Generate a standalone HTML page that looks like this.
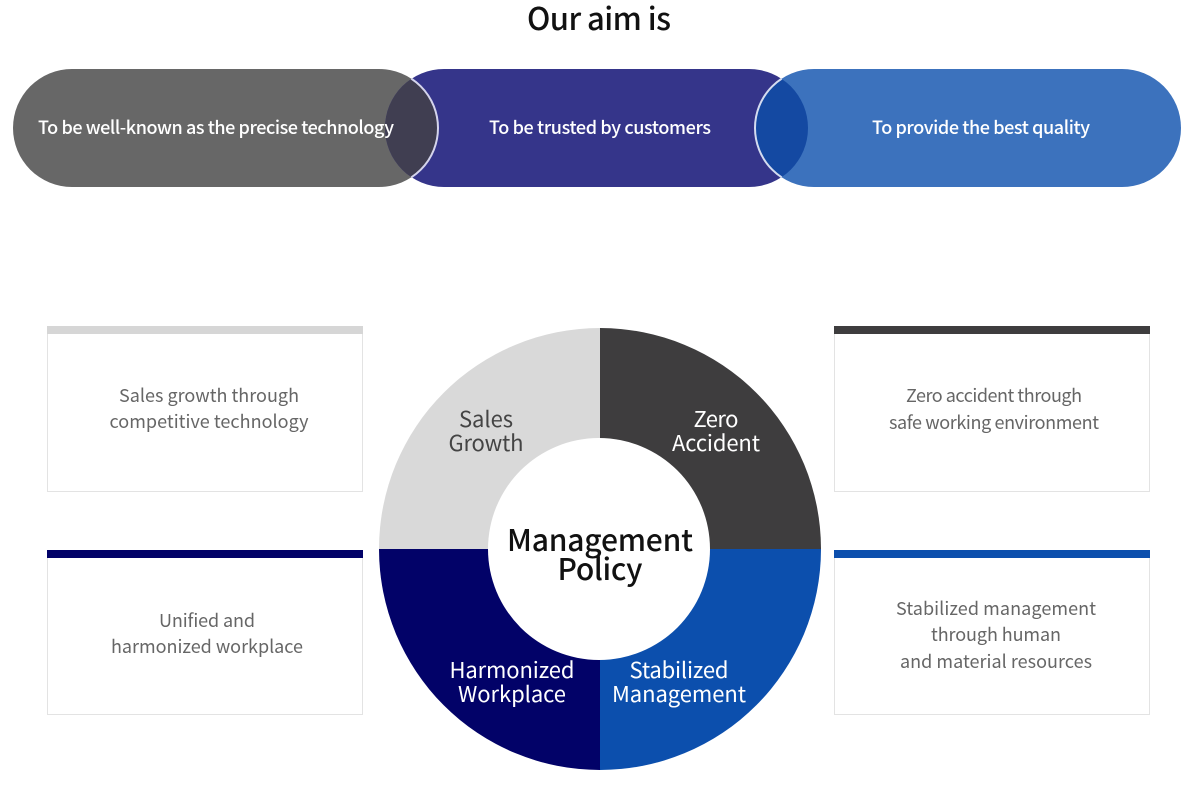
<!DOCTYPE html>
<html>
<head>
<meta charset="utf-8">
<style>
  html, body { margin: 0; padding: 0; background: #ffffff; }
  body { width: 1200px; height: 792px; overflow: hidden; }
  svg { display: block; }
  text { font-family: "Noto Sans CJK KR", "Liberation Sans", sans-serif; }
</style>
</head>
<body>
<svg width="1200" height="792" viewBox="0 0 1200 792" xmlns="http://www.w3.org/2000/svg">
  <defs>
    <clipPath id="c2l"><circle cx="444" cy="128" r="59"/></clipPath>
    <clipPath id="c2r"><circle cx="749" cy="128" r="59"/></clipPath>
  </defs>

  <!-- Title -->
  <text x="599" y="30" font-size="31" font-weight="500" fill="#111111" text-anchor="middle" textLength="144">Our aim is</text>

  <!-- Pills -->
  <rect x="13" y="69" width="425" height="118" rx="59" ry="59" fill="#676767"/>
  <rect x="385" y="69" width="423" height="118" rx="59" ry="59" fill="#35358a"/>
  <rect x="755" y="69" width="426" height="118" rx="59" ry="59" fill="#3c72bd"/>

  <!-- Overlap 1 -->
  <circle cx="379" cy="128" r="59" fill="#403e51" clip-path="url(#c2l)"/>
  <circle cx="379" cy="128" r="59" fill="none" stroke="#d4d4ec" stroke-width="2" clip-path="url(#c2l)"/>
  <!-- Overlap 2 -->
  <circle cx="814" cy="128" r="59" fill="#1449a2" clip-path="url(#c2r)"/>
  <circle cx="814" cy="128" r="59" fill="none" stroke="#d4dcf0" stroke-width="2" clip-path="url(#c2r)"/>

  <text x="216" y="134" font-size="18" font-weight="500" fill="#ffffff" text-anchor="middle" textLength="356">To be well-known as the precise technology</text>
  <text x="600" y="134" font-size="18" font-weight="500" fill="#ffffff" text-anchor="middle" textLength="222">To be trusted by customers</text>
  <text x="981" y="134" font-size="18" font-weight="500" fill="#ffffff" text-anchor="middle" textLength="218">To provide the best quality</text>

  <!-- Boxes -->
  <rect x="47.5" y="326.5" width="315" height="165" fill="#ffffff" stroke="#e3e3e3" stroke-width="1"/>
  <rect x="47" y="326" width="316" height="8" fill="#d6d6d6"/>
  <text x="209" y="402" font-size="18" fill="#666666" text-anchor="middle" textLength="180">Sales growth through</text>
  <text x="209" y="428" font-size="18" fill="#666666" text-anchor="middle" textLength="199">competitive technology</text>

  <rect x="834.5" y="326.5" width="315" height="165" fill="#ffffff" stroke="#e3e3e3" stroke-width="1"/>
  <rect x="834" y="326" width="316" height="8" fill="#3e3d3e"/>
  <text x="994" y="402" font-size="18" fill="#666666" text-anchor="middle" textLength="176">Zero accident through</text>
  <text x="994" y="429" font-size="18" fill="#666666" text-anchor="middle" textLength="210">safe working environment</text>

  <rect x="47.5" y="550.5" width="315" height="164" fill="#ffffff" stroke="#e3e3e3" stroke-width="1"/>
  <rect x="47" y="550" width="316" height="8" fill="#020268"/>
  <text x="207" y="627" font-size="18" fill="#666666" text-anchor="middle" textLength="96">Unified and</text>
  <text x="207" y="653" font-size="18" fill="#666666" text-anchor="middle" textLength="192">harmonized workplace</text>

  <rect x="834.5" y="550.5" width="315" height="164" fill="#ffffff" stroke="#e3e3e3" stroke-width="1"/>
  <rect x="834" y="550" width="316" height="8" fill="#0c4fad"/>
  <text x="996" y="615" font-size="18" fill="#666666" text-anchor="middle" textLength="200">Stabilized management</text>
  <text x="996" y="641" font-size="18" fill="#666666" text-anchor="middle" textLength="130">through human</text>
  <text x="996" y="668" font-size="18" fill="#666666" text-anchor="middle" textLength="192">and material resources</text>

  <!-- Donut -->
  <path d="M600 549 L379 549 A221 221 0 0 1 600 328 Z" fill="#d9d9d9"/>
  <path d="M600 549 L600 328 A221 221 0 0 1 821 549 Z" fill="#3e3d3e"/>
  <path d="M600 549 L821 549 A221 221 0 0 1 600 770 Z" fill="#0c4fad"/>
  <path d="M600 549 L600 770 A221 221 0 0 1 379 549 Z" fill="#020268"/>
  <circle cx="599" cy="549" r="111" fill="#ffffff"/>

  <text x="486" y="427" font-size="22" fill="#444444" text-anchor="middle" textLength="54">Sales</text>
  <text x="486" y="451" font-size="22" fill="#444444" text-anchor="middle" textLength="75">Growth</text>
  <text x="716" y="427" font-size="22" fill="#ffffff" text-anchor="middle" textLength="45">Zero</text>
  <text x="716" y="451" font-size="22" fill="#ffffff" text-anchor="middle" textLength="88">Accident</text>
  <text x="512" y="678" font-size="22" fill="#ffffff" text-anchor="middle" textLength="125">Harmonized</text>
  <text x="512" y="702" font-size="22" fill="#ffffff" text-anchor="middle" textLength="108">Workplace</text>
  <text x="679" y="678" font-size="22" fill="#ffffff" text-anchor="middle" textLength="99">Stabilized</text>
  <text x="679" y="702" font-size="22" fill="#ffffff" text-anchor="middle" textLength="134">Management</text>

  <text x="600" y="551" font-size="30" font-weight="500" fill="#111111" text-anchor="middle" textLength="186">Management</text>
  <text x="600" y="580" font-size="30" font-weight="500" fill="#111111" text-anchor="middle" textLength="85">Policy</text>
</svg>
</body>
</html>
